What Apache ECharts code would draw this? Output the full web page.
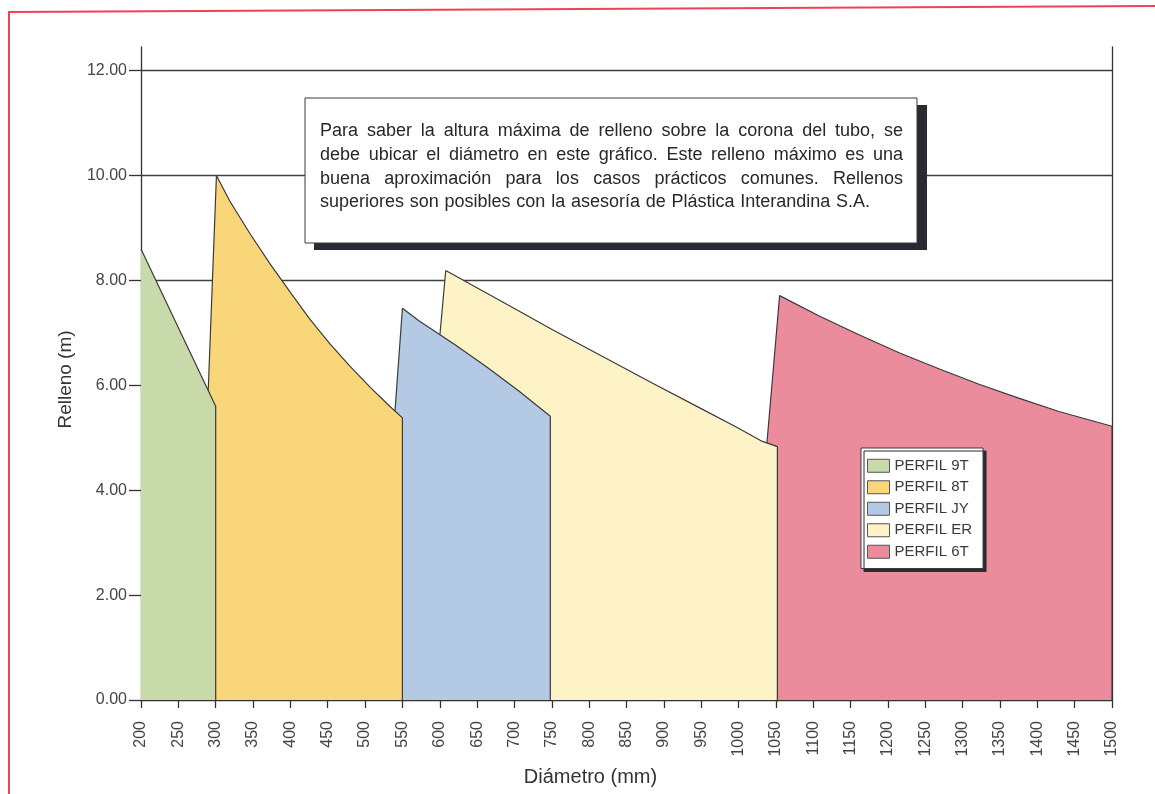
<!DOCTYPE html>
<html>
<head>
<meta charset="utf-8">
<title>Relleno máximo por diámetro</title>
<script src="https://cdn.jsdelivr.net/npm/echarts@6/dist/echarts.min.js"></script>
<style>
  html, body { margin: 0; padding: 0; background: #ffffff; }
  #chart { width: 1155px; height: 794px; }
</style>
</head>
<body>
<div id="chart"></div>
<script>
// Each profile: [diámetro (mm), relleno (m)] along its outline
const perfil9T = [[200, 8.6], [300, 5.6], [300, 0]];
const perfil8T = [[290, 5.9], [301, 10.0], [319, 9.51], [346, 8.89], [373, 8.31], [400, 7.77], [426, 7.26],
                  [453, 6.79], [480, 6.36], [507, 5.96], [533, 5.6], [550, 5.38], [550, 0]];
const perfilJY = [[540, 5.5], [550, 7.47], [573, 7.22], [620, 6.78], [662, 6.36], [705, 5.9], [748, 5.41], [748, 0]];
const perfilER = [[600, 6.93], [608, 8.19], [680, 7.62], [751, 7.06], [818, 6.55], [885, 6.04], [948, 5.57],
                  [995, 5.22], [1032, 4.93], [1052, 4.83], [1052, 0]];
const perfil6T = [[1038, 4.9], [1055, 7.71], [1108, 7.32], [1162, 6.96], [1215, 6.62], [1269, 6.31], [1322, 6.02],
                  [1376, 5.75], [1429, 5.5], [1500, 5.22], [1500, 0]];

const seriesNames = ['PERFIL 9T', 'PERFIL 8T', 'PERFIL JY', 'PERFIL ER', 'PERFIL 6T'];
const seriesData = [perfil9T, perfil8T, perfilJY, perfilER, perfil6T];
const seriesColors = ['#c8d9aa', '#f9d679', '#b4c9e3', '#fdf3c6', '#ea8c9c'];

const yTicks = [0, 2, 4, 6, 8, 10, 12];
const gridLevels = [8, 10, 12];

const noteLines = [
  'Para saber la altura máxima de relleno sobre la corona del tubo, se',
  'debe ubicar el diámetro en este gráfico. Este relleno máximo es una',
  'buena aproximación para los casos prácticos comunes. Rellenos',
  'superiores son posibles con la asesoría de Plástica Interandina S.A.'
];

const FONT = '"Liberation Sans", Arial, Helvetica, sans-serif';
const INK = '#333333';

// Note box text, justified like a printed paragraph
const measureCtx = document.createElement('canvas').getContext('2d');
function textWidth(str, size) {
  measureCtx.font = size + 'px ' + FONT;
  return measureCtx.measureText(str).width;
}
const boxTextLeft = 320, boxTextWidth = 583;
const noteSize = 18;
const noteY = [131, 155.5, 179, 202.5];
const noteTexts = [];
noteLines.forEach(function (line, i) {
  const words = line.split(' ');
  const widths = words.map(function (w) { return textWidth(w, noteSize); });
  const total = widths.reduce(function (a, b) { return a + b; }, 0);
  const justify = i < noteLines.length - 1;
  const gap = justify ? (boxTextWidth - total) / (words.length - 1) : textWidth(' ', noteSize) * 1.15;
  let x = boxTextLeft;
  words.forEach(function (w, k) {
    noteTexts.push({
      type: 'text', x: x, y: noteY[i], z: 102, silent: true,
      style: { text: w, fontSize: noteSize, fontFamily: FONT, fill: '#282828', textVerticalAlign: 'middle' }
    });
    x += widths[k] + gap;
  });
});

const chart = echarts.init(document.getElementById('chart'), null, { renderer: 'canvas' });

const series = seriesNames.map(function (name, i) {
  const s = {
    name: name,
    type: 'line',
    data: seriesData[i],
    z: 10 - i,
    symbol: 'none',
    showSymbol: false,
    smooth: false,
    itemStyle: { color: seriesColors[i] },
    lineStyle: { color: '#3a3a3a', width: 1.2 },
    areaStyle: { color: seriesColors[i], opacity: 1 },
    emphasis: { disabled: true },
    animation: false
  };
  if (i === seriesNames.length - 1) {
    s.markLine = {
      silent: true,
      z: 1,
      symbol: ['none', 'none'],
      label: { show: false },
      lineStyle: { color: '#3f3f3f', width: 1.3, type: 'solid' },
      data: gridLevels.map(function (v) { return { yAxis: v }; })
    };
  }
  return s;
});

const option = {
  backgroundColor: '#ffffff',
  animation: false,
  textStyle: { fontFamily: FONT },
  grid: { left: 141, right: 43, top: 47, bottom: 94, containLabel: false, outerBoundsMode: 'none' },
  legend: {
    z: 30,
    orient: 'vertical',
    left: 861,
    top: 448,
    padding: [10, 11, 9, 6],
    itemWidth: 22,
    itemHeight: 13,
    itemGap: 6,
    icon: 'rect',
    backgroundColor: '#ffffff',
    borderColor: '#3a3a3a',
    borderWidth: 1,
    shadowColor: '#2b2b30',
    shadowOffsetX: 3,
    shadowOffsetY: 3,
    shadowBlur: 0,
    selectedMode: false,
    textStyle: { fontSize: 15, color: '#3a3a3a', fontFamily: FONT, lineHeight: 15.5 },
    data: seriesNames.map(function (n, i) {
      return { name: n, icon: 'rect', itemStyle: { color: seriesColors[i], borderColor: '#555555', borderWidth: 1 } };
    })
  },
  xAxis: {
    type: 'value',
    min: 200,
    max: 1500,
    interval: 50,
    name: 'Diámetro (mm)',
    nameLocation: 'middle',
    nameGap: 67,
    nameTextStyle: { fontSize: 20, color: INK, fontFamily: FONT, padding: [0, 72, 0, 0] },
    axisLine: { show: true, onZero: false, lineStyle: { color: INK, width: 1.3 } },
    axisTick: { show: true, inside: false, length: 8, lineStyle: { color: INK, width: 1.3 } },
    axisLabel: {
      rotate: 90, interval: 0, margin: 21, fontSize: 16, color: '#444444', fontFamily: FONT, hideOverlap: false,
      formatter: function (v) { return String(v); }
    },
    splitLine: { show: false }
  },
  yAxis: [
    {
      type: 'value',
      min: 0,
      max: 12.45,
      interval: 2,
      name: 'Relleno (m)',
      nameLocation: 'middle',
      nameGap: 66,
      nameTextStyle: { fontSize: 19, color: INK, fontFamily: FONT, padding: [0, 12, 0, 0] },
      axisLine: { show: true, lineStyle: { color: INK, width: 1.3 } },
      axisTick: { show: true, inside: false, length: 12, customValues: yTicks, lineStyle: { color: INK, width: 1.3 } },
      axisLabel: {
        margin: 14, fontSize: 16, color: '#444444', fontFamily: FONT, customValues: yTicks,
        formatter: function (v) { return v.toFixed(2); }
      },
      splitLine: { show: false }
    },
    {
      type: 'value',
      position: 'right',
      min: 0,
      max: 12.45,
      axisLine: { show: true, lineStyle: { color: INK, width: 1.3 } },
      axisTick: { show: false },
      axisLabel: { show: false },
      splitLine: { show: false }
    }
  ],
  series: series,
  graphic: [
    {
      type: 'polyline', z: 120, silent: true,
      shape: { points: [[9, 794], [9, 12], [1155, 6]] },
      style: { stroke: '#ef4257', lineWidth: 2, fill: null }
    },
    {
      type: 'rect', z: 100, silent: true,
      shape: { x: 314, y: 105, width: 613, height: 145 },
      style: { fill: '#2a2a33' }
    },
    {
      type: 'rect', z: 101, silent: true,
      shape: { x: 305, y: 98, width: 612, height: 145 },
      style: { fill: '#ffffff', stroke: '#3a3a3a', lineWidth: 1 }
    }
  ].concat(noteTexts)
};

chart.setOption(option);
</script>
</body>
</html>
